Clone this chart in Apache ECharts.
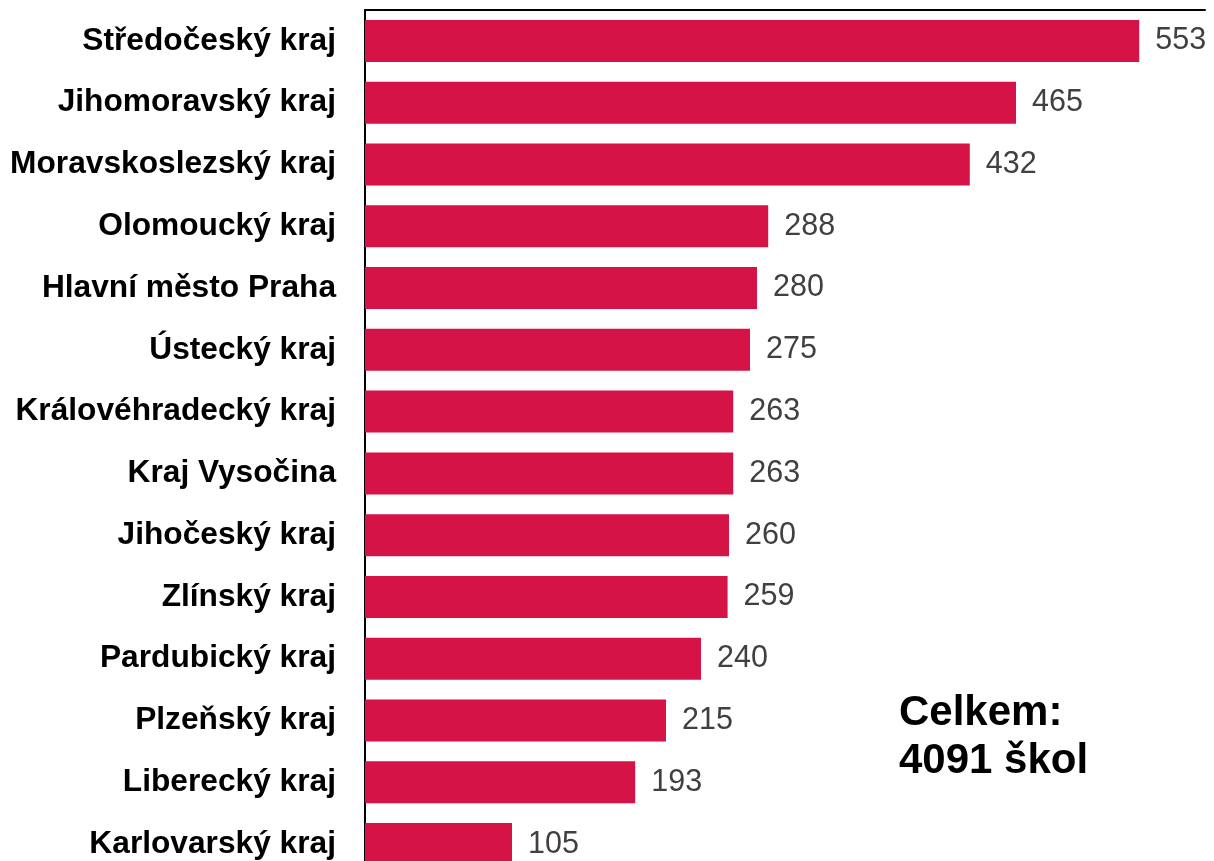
<!DOCTYPE html>
<html><head><meta charset="utf-8">
<script src="https://cdn.jsdelivr.net/npm/echarts@6/dist/echarts.min.js"></script>
<style>html,body{margin:0;padding:0;background:#fff}#c{width:1214px;height:861px}</style>
</head><body><div id="c"></div>
<script>
const categories = ["Středočeský kraj","Jihomoravský kraj","Moravskoslezský kraj","Olomoucký kraj","Hlavní město Praha","Ústecký kraj","Královéhradecký kraj","Kraj Vysočina","Jihočeský kraj","Zlínský kraj","Pardubický kraj","Plzeňský kraj","Liberecký kraj","Karlovarský kraj"];
const values = [553,465,432,288,280,275,263,263,260,259,240,215,193,105];
const totalText = "Celkem:\n4091 škol";

const chart = echarts.init(document.getElementById('c'), null, {renderer:'canvas'});
chart.setOption({
  animation:false,
  grid:{left:365, width:840, top:10, height:865, containLabel:false, outerBoundsMode:'none'},
  xAxis:{type:'value', min:0, max:600, position:'top',
    axisLine:{show:true, lineStyle:{color:'#000', width:2}}, axisTick:{show:false},
    axisLabel:{show:false}, splitLine:{show:false}},
  yAxis:{type:'category', inverse:true, data:categories,
    axisLine:{show:true, lineStyle:{color:'#000', width:2}}, axisTick:{show:false},
    axisLabel:{margin:29, color:'#000', fontFamily:'Liberation Sans, Arial, sans-serif', fontWeight:'bold', fontSize:31.7}},
  series:[{type:'bar', data:values, barWidth:42,
    itemStyle:{color:'#D51346'},
    label:{show:true, position:'right', distance:16, color:'#404040',
      fontFamily:'Liberation Sans, Arial, sans-serif', fontSize:30.5}}],
  graphic:[{type:'text', left:899, top:689,
    style:{text:totalText, fill:'#000', font:'bold 42px "Liberation Sans", Arial, sans-serif', lineHeight:48}}]
});
</script></body></html>
